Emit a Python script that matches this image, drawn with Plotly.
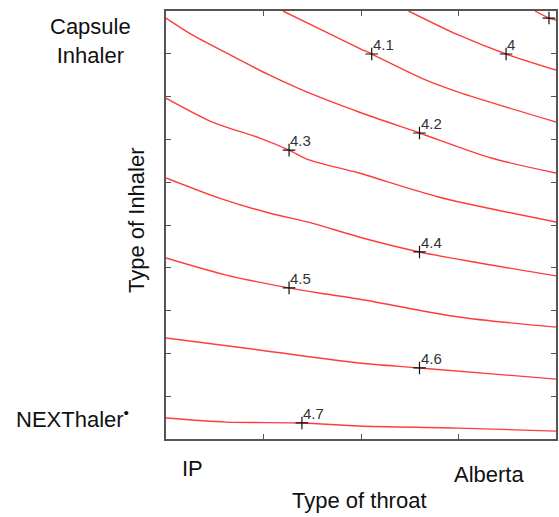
import plotly.graph_objects as go

# Contour lines (coded factor space: x = throat type, y = inhaler type, both -1..1)
levels = [3.9, 4.0, 4.1, 4.2, 4.3, 4.4, 4.5, 4.6, 4.7]
line_x = {
    3.9: [0.892, 0.964, 1.0],
    4.0: [0.244, 0.499, 0.744, 1.0],
    4.1: [-0.400, -0.011, 0.055, 0.331, 0.499, 1.0],
    4.2: [-1.0, -0.865, -0.691, -0.471, -0.267, -0.011, 0.300, 0.668, 1.0],
    4.3: [-1.0, -0.762, -0.522, -0.369, -0.267, -0.011, 0.397, 1.0],
    4.4: [-1.0, -0.727, -0.471, -0.252, -0.011, 0.300, 0.668, 1.0],
    4.5: [-1.0, -0.691, -0.369, -0.216, -0.011, 0.499, 1.0],
    4.6: [-1.0, -0.522, -0.011, 0.300, 1.0],
    4.7: [-1.0, -0.691, -0.303, -0.011, 0.499, 1.0],
}
line_y = {
    3.9: [1.0, 0.967, 0.958],
    4.0: [1.0, 0.888, 0.799, 0.724],
    4.1: [1.0, 0.827, 0.799, 0.678, 0.621, 0.481],
    4.2: [0.967, 0.888, 0.804, 0.701, 0.617, 0.528, 0.430, 0.313, 0.243],
    4.3: [0.593, 0.481, 0.407, 0.350, 0.304, 0.243, 0.131, 0.014],
    4.4: [0.220, 0.126, 0.056, 0.009, -0.056, -0.126, -0.187, -0.238],
    4.5: [-0.154, -0.234, -0.294, -0.318, -0.346, -0.430, -0.477],
    4.6: [-0.528, -0.584, -0.645, -0.668, -0.720],
    4.7: [-0.902, -0.921, -0.925, -0.939, -0.949, -0.963],
}

# Contour label positions ("+" markers); the 3.9 label falls outside the frame
marker_x = [0.964, 0.744, 0.055, 0.300, -0.369, 0.300, -0.369, 0.300, -0.303]
marker_y = [0.967, 0.799, 0.799, 0.430, 0.350, -0.126, -0.294, -0.668, -0.925]
label_x = marker_x[1:]
label_y = marker_y[1:]
label_text = ["4", "4.1", "4.2", "4.3", "4.4", "4.5", "4.6", "4.7"]

x_ticks = [-1, -0.5, 0, 0.5, 1]
y_ticks = [-1, -0.8, -0.6, -0.4, -0.2, 0, 0.2, 0.4, 0.6, 0.8, 1]

fig = go.Figure()
for lv in levels:
    fig.add_trace(go.Scatter(
        x=line_x[lv], y=line_y[lv], mode="lines",
        line=dict(color="#ff3c3c", width=1.4, shape="spline", smoothing=0.8),
        showlegend=False, hoverinfo="skip"))

fig.add_trace(go.Scatter(
    x=marker_x, y=marker_y, mode="markers",
    marker=dict(symbol="cross-thin", size=9, line=dict(color="#111111", width=1.2)),
    showlegend=False, hoverinfo="skip", cliponaxis=False))

for lx, ly, lt in zip(label_x, label_y, label_text):
    fig.add_annotation(x=lx, y=ly, text=lt, showarrow=False, xanchor="left", yanchor="bottom",
                       xshift=-1, yshift=-1,
                       font=dict(family="Liberation Sans, Arial", size=15, color="#333333"))

axis_common = dict(
    showgrid=False, zeroline=False, showticklabels=False,
    ticks="inside", ticklen=5, tickwidth=1, tickcolor="#555555",
    showline=True, linecolor="#555555", linewidth=1.5, mirror="ticks",
)
fig.update_xaxes(range=[-1, 1], tickvals=x_ticks, **axis_common)
fig.update_yaxes(range=[-1, 1], tickvals=y_ticks, **axis_common)

font = dict(family="Liberation Sans, Arial, Helvetica", size=22, color="#111111")
ann = [
    dict(text="Capsule<br>Inhaler", x=-0.194, y=0.930, xanchor="center", yanchor="middle"),
    dict(text="NEXThaler<sup>•</sup>", x=-0.089, y=0.049, xanchor="right", yanchor="middle"),
    dict(text="IP", x=0.069, y=-0.068, xanchor="center", yanchor="middle"),
    dict(text="Alberta", x=0.827, y=-0.084, xanchor="center", yanchor="middle"),
    dict(text="Type of throat", x=0.497, y=-0.143, xanchor="center", yanchor="middle"),
    dict(text="Type of Inhaler", x=-0.074, y=0.512, xanchor="center", yanchor="middle", textangle=-90),
]
for a in ann:
    fig.add_annotation(xref="paper", yref="paper", showarrow=False, font=font, **a)

fig.update_layout(
    width=559, height=517,
    margin=dict(l=166, r=1, t=11, b=78),
    paper_bgcolor="white", plot_bgcolor="white",
)
fig.write_html("out.html")
